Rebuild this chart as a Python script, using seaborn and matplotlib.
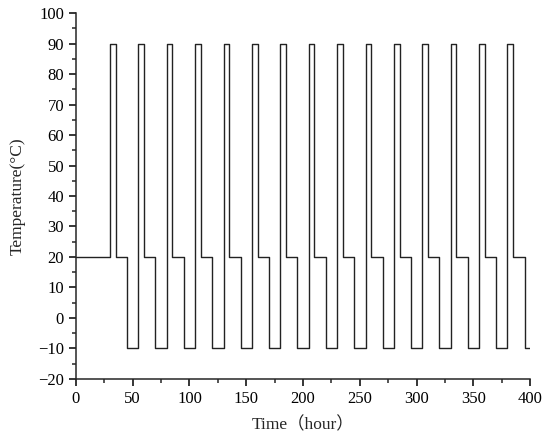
import numpy as np
import pandas as pd
import matplotlib
matplotlib.use("Agg")
import matplotlib.pyplot as plt
import seaborn as sns
from matplotlib.ticker import MultipleLocator

# ── Data: step profile (segment start time, temperature) ──────────
time_h = [0, 30, 35, 45, 55, 60, 70, 80, 85, 95, 105, 110, 120,
          130, 135, 145, 155, 160, 170, 180, 185, 195, 205, 210, 220,
          230, 235, 245, 255, 260, 270, 280, 285, 295, 305, 310, 320,
          330, 335, 345, 355, 360, 370, 380, 385, 395, 400]
temp_c = [20, 90, 20, -10, 90, 20, -10, 90, 20, -10, 90, 20, -10,
          90, 20, -10, 90, 20, -10, 90, 20, -10, 90, 20, -10,
          90, 20, -10, 90, 20, -10, 90, 20, -10, 90, 20, -10,
          90, 20, -10, 90, 20, -10, 90, 20, -10, -10]

df = pd.DataFrame({"Time": time_h, "Temperature": temp_c})

# ── Style ─────────────────────────────────────────────────────────
sns.set_style("ticks")
plt.rcParams["font.family"] = ["Liberation Serif", "Noto Sans CJK SC", "DejaVu Sans"]
plt.rcParams["axes.linewidth"] = 1.1

fig = plt.figure(figsize=(5.5, 4.37), dpi=100)
ax = fig.add_axes([0.138, 0.133, 0.826, 0.837])

sns.lineplot(data=df, x="Time", y="Temperature", drawstyle="steps-post",
             color="#222222", linewidth=1.0, ax=ax)

ax.set_xlim(0, 400)
ax.set_ylim(-20, 100)
ax.xaxis.set_major_locator(MultipleLocator(50))
ax.xaxis.set_minor_locator(MultipleLocator(25))
ax.yaxis.set_major_locator(MultipleLocator(10))
ax.yaxis.set_minor_locator(MultipleLocator(5))
ax.tick_params(which="major", direction="out", length=5, width=1.1,
               labelsize=12, colors="black")
ax.tick_params(which="minor", direction="out", length=3, width=1.1)
ax.set_xticklabels([f"{v:g}".replace("-", "\u2212") for v in ax.get_xticks()])
ax.set_yticklabels([f"{v:g}".replace("-", "\u2212") for v in ax.get_yticks()])

ax.set_xlabel("Time（hour）", fontsize=12.5, labelpad=7)
ax.set_ylabel("Temperature(°C)", fontsize=12.5, labelpad=9)
sns.despine(ax=ax)

plt.savefig("out.png", dpi=100)
